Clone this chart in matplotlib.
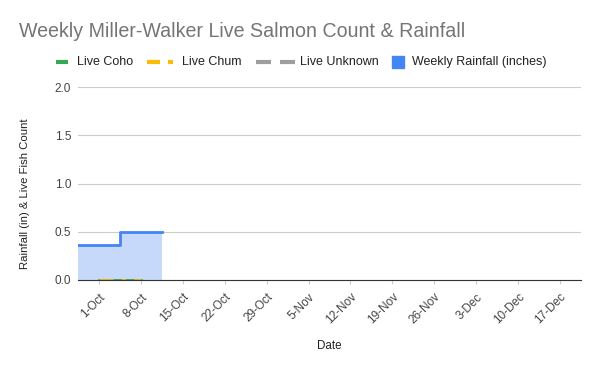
import numpy as np
import matplotlib
matplotlib.use('Agg')
import matplotlib.pyplot as plt
import matplotlib.transforms as mtransforms
from matplotlib.lines import Line2D
from matplotlib.patches import Rectangle

plt.rcParams['font.family'] = ['Liberation Sans', 'DejaVu Sans']

dates = ['1-Oct', '8-Oct', '15-Oct', '22-Oct', '29-Oct', '5-Nov',
         '12-Nov', '19-Nov', '26-Nov', '3-Dec', '10-Dec', '17-Dec']
rainfall = [0.36, 0.5]
live_coho = [0, 0]
live_chum = [0, 0]
live_unknown = [0, 0]

W, H = 600, 371
fig = plt.figure(figsize=(W / 100, H / 100), dpi=100)
ax = fig.add_axes([78 / W, 1 - 280 / H, 503 / W, 193 / H])

x = np.arange(len(dates))

# stepped area: each week fills its own category band
n = len(rainfall)
xs = np.append(x[:n] - 0.5, n - 0.5)
ys = np.append(rainfall, rainfall[-1])
ax.fill_between(xs, ys, step='post', color='#c6d9fa', linewidth=0, zorder=2)
ax.step(xs, ys, where='post', color='#4285f4', lw=2, zorder=3)

ax.plot(x[:len(live_unknown)], live_unknown, color='#9e9e9e', lw=2, ls=(0, (4, 2)), zorder=4)
ax.plot(x[:len(live_coho)], live_coho, color='#34a853', lw=2, zorder=4)
ax.plot(x[:len(live_chum)], live_chum, color='#fbbc04', lw=2, ls=(0, (5, 3, 1.5, 3)), zorder=4)

ax.set_xlim(-0.5, len(dates) - 0.5)
ax.set_ylim(0, 2.0)
ax.set_yticks([0, 0.5, 1.0, 1.5, 2.0])
ax.set_yticklabels(['0.0', '0.5', '1.0', '1.5', '2.0'])
ax.set_xticks(x)
ax.set_xticklabels(dates, rotation=45, ha='right', rotation_mode='anchor')
shift = mtransforms.ScaledTranslation(7 / 72, 0, fig.dpi_scale_trans)
for lbl in ax.get_xticklabels():
    lbl.set_transform(lbl.get_transform() + shift)
ax.tick_params(axis='both', labelsize=8.5, colors='#444444', length=0, pad=5)
ax.tick_params(axis='x', length=3, color='#cccccc', pad=5)

ax.grid(axis='y', color='#cccccc', lw=0.8, zorder=0)
ax.set_axisbelow(True)
for s in ['top', 'right', 'left']:
    ax.spines[s].set_visible(False)
ax.spines['bottom'].set_color('#333333')
ax.spines['bottom'].set_zorder(5)

ax.set_xlabel('Date', fontsize=8.4, color='#222222')
ax.xaxis.set_label_coords(0.5, (280 - 340) / 193)
ax.xaxis.label.set_va('top')
ax.set_ylabel('Rainfall (in) & Live Fish Count', fontsize=8.2, color='#222222')
ax.yaxis.set_label_coords((30 - 78) / 503, (280 - 194) / 193)

fig.text(19 / W, 1 - 37 / H, 'Weekly Miller-Walker Live Salmon Count & Rainfall',
         fontsize=14.1, color='#757575', va='baseline')

# legend, laid out by hand in pixel positions like the original
ly = 1 - 62 / H
def px(v):
    return v / W

fig.add_artist(Line2D([px(56), px(68)], [ly, ly], color='#34a853', lw=3,
                      transform=fig.transFigure, solid_capstyle='butt'))
fig.add_artist(Line2D([px(147), px(160)], [ly, ly], color='#fbbc04', lw=3,
                      transform=fig.transFigure, solid_capstyle='butt'))
fig.add_artist(Line2D([px(168), px(173)], [ly, ly], color='#fbbc04', lw=3,
                      transform=fig.transFigure, solid_capstyle='butt'))
fig.add_artist(Line2D([px(256), px(271)], [ly, ly], color='#9e9e9e', lw=3,
                      transform=fig.transFigure, solid_capstyle='butt'))
fig.add_artist(Line2D([px(280), px(295)], [ly, ly], color='#9e9e9e', lw=3,
                      transform=fig.transFigure, solid_capstyle='butt'))
fig.add_artist(Rectangle((px(392), 1 - 68 / H), 12 / W, 12 / H, color='#4285f4',
                         transform=fig.transFigure))
labels = ['Live Coho', 'Live Chum', 'Live Unknown', 'Weekly Rainfall (inches)']
label_x = [77, 182, 300, 412]
for lx, lab in zip(label_x, labels):
    fig.text(px(lx), ly, lab, fontsize=9, color='#222222', va='center')

fig.savefig('out.png', dpi=100)
